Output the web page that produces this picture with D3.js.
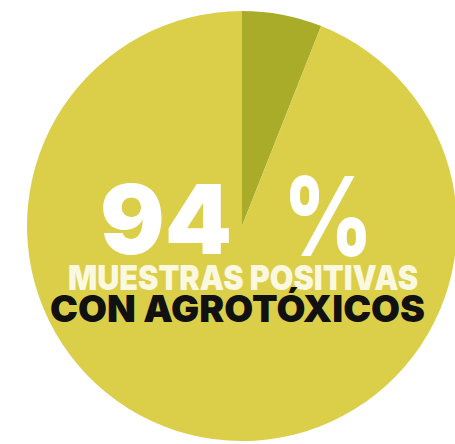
<!DOCTYPE html>
<html lang="es">
<head>
    <meta charset="UTF-8">
    <title>Muestras positivas con agrotóxicos</title>
    <script src="https://cdn.jsdelivr.net/npm/d3@7"></script>
    <style>
        body { margin: 0; background: #fff; }
        text { font-family: Inter, Roboto, sans-serif; font-weight: 900; }
    </style>
</head>
<body>
<svg width="455" height="444"></svg>

<script>
    // datos de la muestra
    var categorias = ["Negativas", "Positivas"];
    var valores = [6, 94];
    var colores = ["#a9ac28", "#dbcf4a"];
    var lineas = ["MUESTRAS POSITIVAS", "CON AGROTÓXICOS"];

    var cx = 242, cy = 226, radio = 215;

    var svg = d3.select("svg");

    var color = d3.scaleOrdinal().domain(categorias).range(colores);

    var pie = d3.pie().sort(null).value(function (d) { return d; });
    var arc = d3.arc().innerRadius(0).outerRadius(radio);

    var g = svg.append("g").attr("transform", "translate(" + cx + "," + cy + ")");

    g.selectAll("path")
        .data(pie(valores))
        .enter()
        .append("path")
        .attr("d", arc)
        .attr("fill", function (d, i) { return color(categorias[i]); });

    // porcentaje grande
    svg.append("text")
        .attr("x", 100).attr("y", 254)
        .attr("textLength", 132).attr("lengthAdjust", "spacingAndGlyphs")
        .attr("fill", "#ffffff")
        .style("font-size", "96px")
        .text(valores[1]);

    svg.append("text")
        .attr("x", 283).attr("y", 256)
        .attr("textLength", 90).attr("lengthAdjust", "spacingAndGlyphs")
        .attr("fill", "#ffffff")
        .style("font-size", "110px")
        .style("font-weight", "800")
        .text("%");

    svg.append("text")
        .attr("x", 68).attr("y", 290)
        .attr("textLength", 350).attr("lengthAdjust", "spacingAndGlyphs")
        .attr("fill", "#fbf8e0")
        .style("font-size", "34px")
        .text(lineas[0]);

    svg.append("text")
        .attr("x", 50).attr("y", 322)
        .attr("textLength", 375).attr("lengthAdjust", "spacingAndGlyphs")
        .attr("fill", "#111111")
        .style("font-size", "37px")
        .text(lineas[1]);
</script>
</body>
</html>
